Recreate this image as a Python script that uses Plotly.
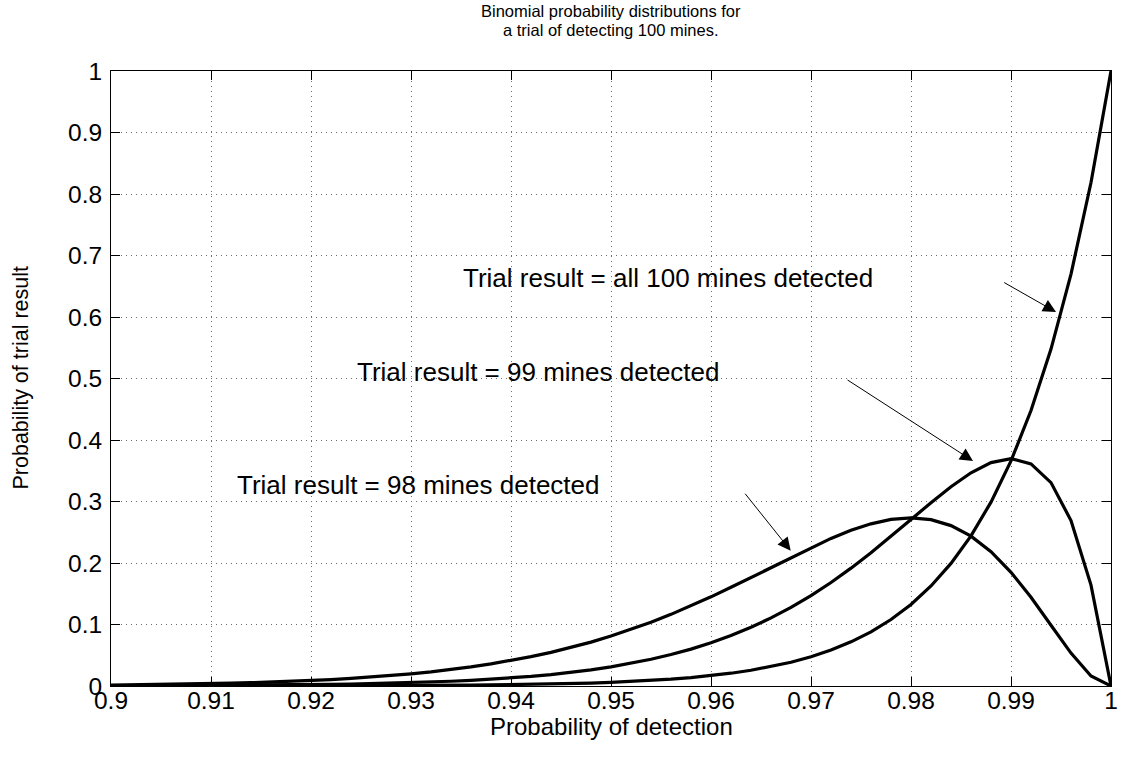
import plotly.graph_objects as go

# Probability of detection (x axis)
p_detect = [0.900, 0.902, 0.904, 0.906, 0.908, 0.910, 0.912, 0.914, 0.916, 0.918,
            0.920, 0.922, 0.924, 0.926, 0.928, 0.930, 0.932, 0.934, 0.936, 0.938,
            0.940, 0.942, 0.944, 0.946, 0.948, 0.950, 0.952, 0.954, 0.956, 0.958,
            0.960, 0.962, 0.964, 0.966, 0.968, 0.970, 0.972, 0.974, 0.976, 0.978,
            0.980, 0.982, 0.984, 0.986, 0.988, 0.990, 0.992, 0.994, 0.996, 0.998,
            1.000]

# Probability of trial result: all 100 mines detected
prob_100 = [0.0000, 0.0000, 0.0000, 0.0001, 0.0001, 0.0001, 0.0001, 0.0001, 0.0002, 0.0002,
            0.0002, 0.0003, 0.0004, 0.0005, 0.0006, 0.0007, 0.0009, 0.0011, 0.0013, 0.0017,
            0.0021, 0.0025, 0.0031, 0.0039, 0.0048, 0.0059, 0.0073, 0.0090, 0.0111, 0.0137,
            0.0169, 0.0208, 0.0256, 0.0315, 0.0387, 0.0476, 0.0584, 0.0718, 0.0881, 0.1081,
            0.1326, 0.1626, 0.1993, 0.2442, 0.2990, 0.3660, 0.4479, 0.5478, 0.6698, 0.8186,
            1.0000]

# Probability of trial result: 99 mines detected
prob_99 = [0.0003, 0.0004, 0.0004, 0.0005, 0.0007, 0.0008, 0.0010, 0.0012, 0.0014, 0.0017,
           0.0021, 0.0025, 0.0030, 0.0037, 0.0044, 0.0053, 0.0064, 0.0077, 0.0092, 0.0110,
           0.0131, 0.0156, 0.0186, 0.0222, 0.0263, 0.0312, 0.0368, 0.0435, 0.0511, 0.0600,
           0.0703, 0.0821, 0.0955, 0.1107, 0.1279, 0.1471, 0.1683, 0.1916, 0.2166, 0.2432,
           0.2707, 0.2981, 0.3241, 0.3467, 0.3632, 0.3697, 0.3612, 0.3307, 0.2690, 0.1640,
           0.0000]

# Probability of trial result: 98 mines detected
prob_98 = [0.0016, 0.0019, 0.0023, 0.0028, 0.0033, 0.0039, 0.0046, 0.0054, 0.0064, 0.0076,
           0.0090, 0.0105, 0.0124, 0.0145, 0.0169, 0.0198, 0.0230, 0.0268, 0.0310, 0.0359,
           0.0414, 0.0477, 0.0547, 0.0626, 0.0714, 0.0812, 0.0919, 0.1037, 0.1165, 0.1303,
           0.1450, 0.1605, 0.1765, 0.1929, 0.2093, 0.2252, 0.2400, 0.2531, 0.2637, 0.2708,
           0.2734, 0.2704, 0.2608, 0.2437, 0.2183, 0.1849, 0.1442, 0.0988, 0.0535, 0.0163,
           0.0000]

x_ticks = [0.9, 0.91, 0.92, 0.93, 0.94, 0.95, 0.96, 0.97, 0.98, 0.99, 1.0]
x_tick_labels = ["0.9", "0.91", "0.92", "0.93", "0.94", "0.95", "0.96", "0.97", "0.98", "0.99", "1"]
y_ticks = [0, 0.1, 0.2, 0.3, 0.4, 0.5, 0.6, 0.7, 0.8, 0.9, 1.0]
y_tick_labels = ["0", "0.1", "0.2", "0.3", "0.4", "0.5", "0.6", "0.7", "0.8", "0.9", "1"]

title_lines = ["Binomial probability distributions for", "a trial of detecting 100 mines."]
x_title = "Probability of detection"
y_title = "Probability of trial result"

labels = ["Trial result = all 100 mines detected",
          "Trial result = 99 mines detected",
          "Trial result = 98 mines detected"]
label_pos = [(0.9557, 0.6634), (0.9427, 0.5111), (0.9307, 0.3268)]
arrow_tail = [(0.98917, 0.6574), (0.9735, 0.4992), (0.9633, 0.3150)]
arrow_head = [(0.9945, 0.6081), (0.9862, 0.3659), (0.96797, 0.2200)]

FONT = "Liberation Sans, Arial, Helvetica, sans-serif"

fig = go.Figure()
for ys in (prob_100, prob_99, prob_98):
    fig.add_trace(go.Scatter(x=p_detect, y=ys, mode="lines",
                             line=dict(color="black", width=3.2),
                             showlegend=False, hoverinfo="skip"))

axis_common = dict(
    showline=True, linecolor="black", linewidth=1, mirror="ticks",
    ticks="inside", ticklen=9, tickwidth=1, tickcolor="black",
    showgrid=True, gridcolor="#707070", gridwidth=1, griddash="1px,4px",
    zeroline=False,
    tickfont=dict(family=FONT, size=24.5, color="black"),
)

fig.update_xaxes(range=[0.9, 1.0], tickvals=x_ticks, ticktext=x_tick_labels,
                 ticklabelstandoff=-7, **axis_common)
fig.update_yaxes(range=[0, 1.0], tickvals=y_ticks, ticktext=y_tick_labels,
                 ticklabelstandoff=3, **axis_common)

annotations = []
# title lines
annotations.append(dict(text=title_lines[0], xref="paper", yref="paper", x=0.5,
                        y=(71 - 11) / 615 + 1.0,
                        xanchor="center", yanchor="middle", showarrow=False,
                        font=dict(family=FONT, size=16.5, color="black")))
annotations.append(dict(text=title_lines[1], xref="paper", yref="paper", x=0.5,
                        y=(71 - 29.5) / 615 + 1.0,
                        xanchor="center", yanchor="middle", showarrow=False,
                        font=dict(family=FONT, size=16.5, color="black")))
# axis titles
annotations.append(dict(text=x_title, xref="paper", yref="paper", x=0.5,
                        y=(686 - 726) / 615,
                        xanchor="center", yanchor="middle", showarrow=False,
                        font=dict(family=FONT, size=24, color="black")))
annotations.append(dict(text=y_title, xref="paper", yref="paper", x=(20 - 111) / 1000, y=0.5,
                        xanchor="center", yanchor="middle", showarrow=False, textangle=-90,
                        font=dict(family=FONT, size=21.5, color="black")))
# curve labels
for txt, (lx, ly) in zip(labels, label_pos):
    annotations.append(dict(text=txt, xref="x", yref="y", x=lx, y=ly,
                            xanchor="center", yanchor="middle", showarrow=False,
                            font=dict(family=FONT, size=26, color="black")))
# arrows
for (tx, ty), (hx, hy) in zip(arrow_tail, arrow_head):
    annotations.append(dict(text="", xref="x", yref="y", x=hx, y=hy,
                            axref="x", ayref="y", ax=tx, ay=ty,
                            showarrow=True, arrowhead=2, arrowsize=2.6, arrowwidth=1,
                            arrowcolor="black", standoff=0, startstandoff=0))

fig.update_layout(
    width=1124, height=759,
    margin=dict(l=111, r=13, t=71, b=73, autoexpand=False),
    paper_bgcolor="white", plot_bgcolor="white",
    annotations=annotations,
    showlegend=False,
)

# remove the default page margin so the figure fills the 1124x759 window exactly
fig.write_html("out.html", config={"displayModeBar": False},
               post_script="document.body.style.margin='0';")
